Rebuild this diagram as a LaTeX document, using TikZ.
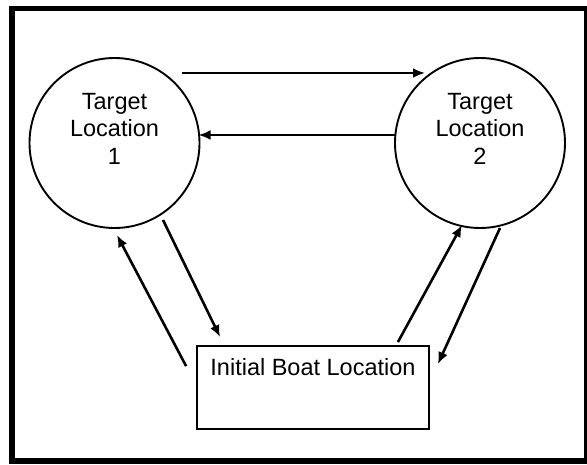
\documentclass[tikz,border=0pt]{standalone}
\usepackage{fontspec}
\setmainfont{Liberation Sans}
\usetikzlibrary{arrows.meta,calc}
\begin{document}
\begin{tikzpicture}[x=1pt,y=-1pt,
  place/.style={circle,draw,line width=1.9pt,minimum size=170pt,inner sep=0pt},
  captiontext/.style={font=\fontsize{23.5}{27.5}\selectfont,align=center,inner sep=0pt},
  conn/.style={line width=2.6pt,-{Latex[length=12pt,width=10pt]}},
  startbox/.style={draw,line width=1.8pt,minimum width=232pt,minimum height=83pt,inner sep=0pt}]
\useasboundingbox (0,0) rectangle (587,464);
% outer frame
\draw[line width=5.5pt] (12,8.5) rectangle (587,461);

% locations
\node[place] (c1) at (114.5,143) {};
\node[place] (c2) at (480,143) {};
\node[captiontext,anchor=north] (t1) at (114.5,93) {Target\\Location\\1};
\node[captiontext,anchor=north] (t2) at (480,93) {Target\\Location\\2};

\node[startbox] (boat) at (313,387.5) {};
\node[captiontext,anchor=base] (bt) at (313,375) {Initial Boat Location};

% movements
\draw[conn] ($(c1.center)+(67.5,-70)$) -- ($(c2.center)+(-55,-70)$);
\draw[conn] ($(c2.center)+(-85,-8)$) -- ($(c1.center)+(84,-8)$);
\draw[conn] ($(c1.center)+(48.5,77)$) -- ($(boat.north west)+(24,-8)$);
\draw[conn] ($(boat.north west)+(-10,21)$) -- ($(c1.center)+(2.5,92)$);
\draw[conn] ($(boat.north east)+(-32,-3)$) -- ($(c2.center)+(-18,82)$);
\draw[conn] ($(c2.center)+(20,85)$) -- ($(boat.north east)+(8,19)$);
\end{tikzpicture}
\end{document}
